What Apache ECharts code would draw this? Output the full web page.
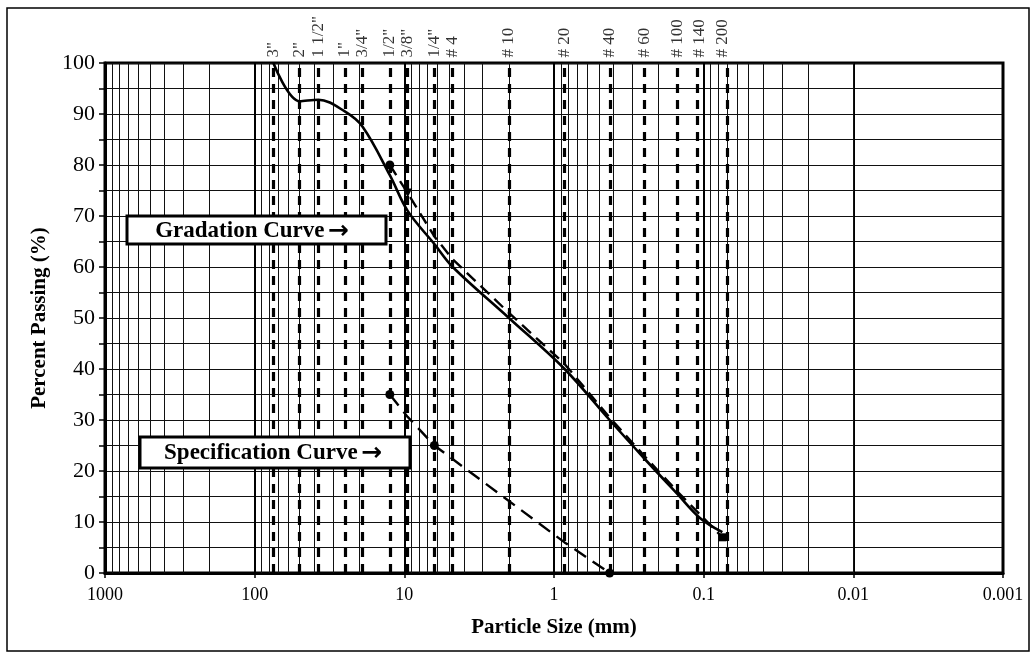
<!DOCTYPE html>
<html>
<head>
<meta charset="utf-8">
<script src="https://cdn.jsdelivr.net/npm/echarts@6/dist/echarts.min.js"></script>
<style>html,body{margin:0;padding:0;background:#fff}#c{width:1034px;height:654px}</style>
</head>
<body>
<div id="c"></div>
<script>
// ---- data ----
const sieveNames = ['3"','2"','1 1/2"','1"','3/4"','1/2"','3/8"','1/4"','# 4','# 10','# 20','# 40','# 60','# 100','# 140','# 200'];
const sieveSizes = [75, 50, 37.5, 25, 19, 12.5, 9.5, 6.3, 4.75, 2.0, 0.85, 0.425, 0.25, 0.15, 0.106, 0.075];

const gradSizes  = [75, 50, 37.5, 25, 19, 12.5, 9.5, 6.3, 4.75, 2.0, 0.85, 0.425, 0.25, 0.15, 0.106, 0.075];
const gradValues = [100, 92.5, 92.8, 90.5, 87.5, 78, 71, 64.5, 60, 50, 40, 30, 22.5, 15.5, 10.8, 8];

const specUpperSizes  = [12.5, 9.5, 6.3, 4.75, 2.0, 0.85, 0.425, 0.25, 0.15, 0.075];
const specUpperValues = [80, 74.5, 66, 61.5, 51, 41, 30.5, 23, 16, 7];

const specLowerSizes  = [12.5, 9.5, 6.3, 0.85, 0.425];
const specLowerValues = [35, 30.6, 25, 6, 0];

const xTickLabels = ['0.001','0.01','0.1','1','10','100','1000'];
const yTickLabels = ['0','10','20','30','40','50','60','70','80','90','100'];

// ---- build ----
const SERIF = '"Liberation Serif","DejaVu Serif",serif';
const pairs = (xs, ys) => xs.map((x, i) => [x, ys[i]]);

const minorVals = [];
for (let e = -3; e < 3; e++) {
  for (let m = 2; m <= 9; m++) minorVals.push(m * Math.pow(10, e));
}

const upperData = pairs(specUpperSizes, specUpperValues).map((p, i) => {
  const item = { value: p, symbol: 'none' };
  if (i === 0) { item.symbol = 'circle'; item.symbolSize = 9; }
  if (i === 1) { item.symbol = 'triangle'; item.symbolSize = 9; item.symbolRotate = 180; }
  if (i === specUpperSizes.length - 1) { item.symbol = 'rect'; item.symbolSize = 8; }
  return item;
});
const lowerData = pairs(specLowerSizes, specLowerValues).map((p, i) => {
  const item = { value: p, symbol: 'none' };
  if (i === 0 || i === 2 || i === specLowerSizes.length - 1) { item.symbol = 'circle'; item.symbolSize = 9; }
  return item;
});

const boxText = (label) => ({
  text: '{t|' + label + '} {a|→}',
  rich: {
    t: { font: 'bold 23px ' + SERIF, fill: '#000' },
    a: { font: 'bold 25px "DejaVu Sans"', fill: '#000' }
  },
  align: 'center', verticalAlign: 'middle'
});

const chart = echarts.init(document.getElementById('c'), null, { renderer: 'canvas' });
chart.setOption({
  animation: false,
  backgroundColor: '#fff',
  grid: { left: 105, right: 31, top: 63, bottom: 81, show: true, borderColor: '#000', borderWidth: 3 },
  xAxis: {
    type: 'log', logBase: 10, min: 0.001, max: 1000, inverse: true,
    name: 'Particle Size (mm)', nameLocation: 'middle', nameGap: 44,
    nameTextStyle: { fontFamily: SERIF, fontSize: 21, fontWeight: 'bold', color: '#000' },
    axisLine: { show: true, lineStyle: { color: '#000', width: 3 } },
    axisTick: { show: true, length: 5, lineStyle: { color: '#000', width: 1.5 } },
    axisLabel: {
      fontFamily: SERIF, fontSize: 18, color: '#000', margin: 13,
      formatter: v => xTickLabels[Math.round(Math.log10(v)) + 3]
    },
    splitLine: { show: true, lineStyle: { color: '#000', width: 2 } }
  },
  yAxis: {
    type: 'value', min: 0, max: 100, interval: 10,
    name: 'Percent Passing (%)', nameLocation: 'middle', nameGap: 55,
    nameTextStyle: { fontFamily: SERIF, fontSize: 21, fontWeight: 'bold', color: '#000' },
    axisLine: { show: true, lineStyle: { color: '#000', width: 3 } },
    axisTick: { show: true, length: 6, lineStyle: { color: '#000', width: 1.5 } },
    minorTick: { show: true, splitNumber: 2, length: 6, lineStyle: { color: '#000', width: 1.5 } },
    minorSplitLine: { show: true, lineStyle: { color: '#111', width: 1.2 } },
    axisLabel: { fontFamily: SERIF, fontSize: 22, color: '#000', margin: 10,
      formatter: v => yTickLabels[Math.round(v / 10)] },
    splitLine: { show: true, lineStyle: { color: '#111', width: 1.2 } }
  },
  series: [
    { // minor log gridlines
      type: 'line', data: [], silent: true,
      markLine: {
        silent: true, symbol: 'none', animation: false,
        label: { show: false },
        lineStyle: { color: '#111', width: 1, type: 'solid' },
        data: minorVals.map(v => ({ xAxis: v }))
      }
    },
    { // sieve dashed lines with labels
      type: 'scatter', symbol: 'circle', symbolSize: 1, silent: true, z: 3,
      itemStyle: { color: 'rgba(0,0,0,0)' },
      data: sieveSizes.map((s, i) => ({ value: [s, 100], name: sieveNames[i] })),
      label: {
        show: true, position: 'top', distance: 5, rotate: 90,
        align: 'left', verticalAlign: 'middle',
        fontFamily: SERIF, fontSize: 17, color: '#000',
        formatter: p => p.name
      },
      labelLayout: { hideOverlap: false },
      markLine: {
        silent: true, symbol: 'none', animation: false,
        label: { show: false },
        lineStyle: { color: '#000', width: 3.2, type: [9, 7] },
        data: sieveSizes.map(v => ({ xAxis: v }))
      }
    },
    {
      name: 'Gradation Curve', type: 'line', smooth: 0.35, symbol: 'none', z: 5,
      lineStyle: { color: '#000', width: 2.6 },
      data: pairs(gradSizes, gradValues)
    },
    {
      name: 'Specification Upper', type: 'line', z: 6,
      lineStyle: { color: '#000', width: 2.4, type: [12, 7] },
      itemStyle: { color: '#000' },
      data: upperData
    },
    {
      name: 'Specification Lower', type: 'line', z: 6,
      lineStyle: { color: '#000', width: 2.4, type: [14, 8] },
      itemStyle: { color: '#000' },
      data: lowerData
    }
  ],
  graphic: [
    { type: 'rect', z: 100, shape: { x: 7, y: 8, width: 1022, height: 643 }, style: { fill: 'none', stroke: '#000', lineWidth: 1.5 } },
    { type: 'rect', z: 100, shape: { x: 127, y: 216, width: 259, height: 28 }, style: { fill: '#fff', stroke: '#000', lineWidth: 3 } },
    { type: 'text', z: 101, x: 252, y: 231, style: boxText('Gradation Curve') },
    { type: 'rect', z: 100, shape: { x: 140, y: 437, width: 270, height: 31 }, style: { fill: '#fff', stroke: '#000', lineWidth: 3 } },
    { type: 'text', z: 101, x: 273, y: 453, style: boxText('Specification Curve') }
  ]
});
</script>
</body>
</html>
